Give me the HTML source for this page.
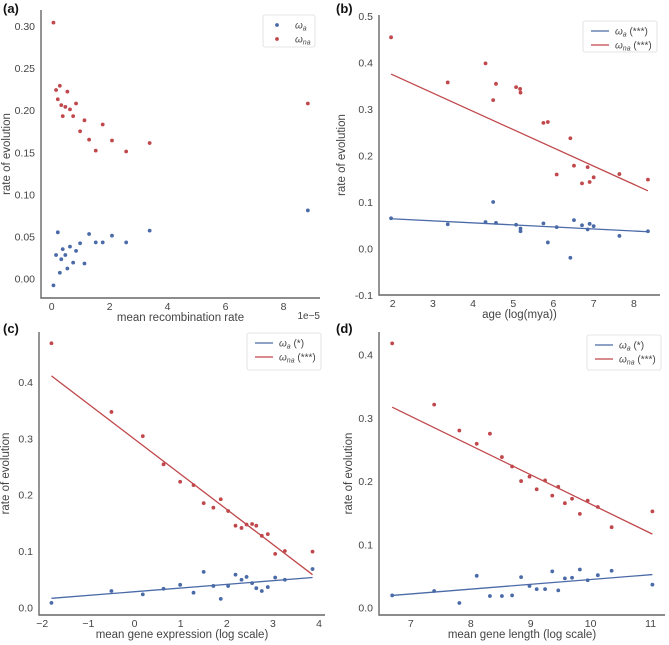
<!DOCTYPE html>
<html><head><meta charset="utf-8">
<style>
html,body{margin:0;padding:0;background:#fff;}
svg{display:block;font-family:"Liberation Sans",sans-serif;}
</style></head>
<body>
<svg id="chart" width="669" height="645" viewBox="0 0 669 645"></svg>
<script>
// Panel (a) data
const aRedX=[0.06,0.15,0.28,0.21,0.33,0.47,0.54,0.63,0.84,0.38,0.74,1.13,0.98,1.29,1.76,1.52,2.08,2.57,3.38,8.84];
const aRedY=[0.304,0.224,0.229,0.213,0.206,0.204,0.222,0.201,0.208,0.193,0.193,0.188,0.175,0.165,0.183,0.152,0.164,0.151,0.161,0.208];
const aBlueX=[0.06,0.15,0.21,0.28,0.33,0.38,0.47,0.54,0.63,0.74,0.84,0.98,1.13,1.29,1.52,1.76,2.08,2.57,3.38,8.84];
const aBlueY=[-0.008,0.028,0.055,0.007,0.023,0.035,0.028,0.012,0.038,0.019,0.033,0.042,0.018,0.053,0.043,0.043,0.051,0.043,0.057,0.081];
const aXTicks=[0,2,4,6,8];
const aYTicks=[0,0.05,0.10,0.15,0.20,0.25,0.30];
// Panel (b) data
const bRedX=[1.96,3.37,4.31,4.50,4.57,5.07,5.17,5.18,5.75,5.86,6.42,6.08,6.51,6.71,6.85,6.90,7.00,7.64,8.35];
const bRedY=[0.454,0.357,0.398,0.319,0.354,0.347,0.343,0.335,0.270,0.272,0.237,0.159,0.178,0.140,0.175,0.143,0.153,0.160,0.148];
const bBlueX=[1.96,3.37,4.31,4.50,4.57,5.07,5.18,5.18,5.75,5.86,6.08,6.42,6.51,6.71,6.85,6.90,7.00,7.64,8.35];
const bBlueY=[0.065,0.052,0.057,0.100,0.055,0.051,0.043,0.037,0.054,0.013,0.046,-0.020,0.061,0.050,0.041,0.053,0.048,0.027,0.037];
const bRedFitX=[1.96,8.35], bRedFitY=[0.375,0.124];
const bBlueFitX=[1.96,8.35], bBlueFitY=[0.064,0.036];
const bXTicks=[2,3,4,5,6,7,8];
const bYTicks=[-0.1,0.0,0.1,0.2,0.3,0.4,0.5];
// Panel (c) data
const cRedX=[-1.80,-0.50,0.18,0.63,0.99,1.28,1.50,1.71,1.87,2.03,2.19,2.32,2.43,2.55,2.64,2.76,2.89,3.05,3.26,3.86];
const cRedY=[0.469,0.347,0.304,0.254,0.223,0.217,0.185,0.177,0.192,0.171,0.145,0.141,0.147,0.148,0.145,0.127,0.130,0.095,0.100,0.099];
const cBlueX=[-1.80,-0.50,0.18,0.63,0.99,1.28,1.50,1.71,1.87,2.03,2.19,2.32,2.43,2.55,2.64,2.76,2.89,3.05,3.26,3.86];
const cBlueY=[0.008,0.029,0.023,0.033,0.040,0.026,0.063,0.038,0.015,0.038,0.058,0.049,0.054,0.043,0.034,0.029,0.036,0.053,0.049,0.068];
const cRedFitX=[-1.80,3.86], cRedFitY=[0.411,0.058];
const cBlueFitX=[-1.80,3.86], cBlueFitY=[0.016,0.053];
const cXTicks=[-2,-1,0,1,2,3,4];
const cYTicks=[0.0,0.1,0.2,0.3,0.4];
// Panel (d) data
const dRedX=[6.69,7.39,7.81,8.10,8.32,8.52,8.69,8.84,8.98,9.10,9.24,9.36,9.46,9.57,9.69,9.82,9.95,10.12,10.35,11.03];
const dRedY=[0.418,0.321,0.280,0.259,0.275,0.238,0.223,0.200,0.207,0.187,0.201,0.177,0.191,0.165,0.172,0.148,0.169,0.159,0.127,0.152];
const dBlueX=[6.69,7.39,7.81,8.10,8.32,8.52,8.69,8.84,8.98,9.10,9.24,9.36,9.46,9.57,9.69,9.82,9.95,10.12,10.35,11.03];
const dBlueY=[0.019,0.026,0.007,0.050,0.018,0.018,0.019,0.048,0.034,0.029,0.029,0.057,0.027,0.046,0.047,0.060,0.043,0.051,0.058,0.036];
const dRedFitX=[6.69,11.03], dRedFitY=[0.317,0.116];
const dBlueFitX=[6.69,11.03], dBlueFitY=[0.019,0.052];
const dXTicks=[7,8,9,10,11];
const dYTicks=[0.0,0.1,0.2,0.3,0.4];

const NS="http://www.w3.org/2000/svg";
const svg=document.getElementById('chart');
const BLUE="#4a6aa8", RED="#c0484c";
function mk(tag,attrs,parent){const e=document.createElementNS(NS,tag);for(const k in attrs)e.setAttribute(k,attrs[k]);(parent||svg).appendChild(e);return e;}

function panel(cfg){
  const g=mk('g',{});
  
  
  const sx=v=>cfg.x0+(v-cfg.xmin)/(cfg.xmax-cfg.xmin)*(cfg.x1-cfg.x0);
  const sy=v=>cfg.y1-(v-cfg.ymin)/(cfg.ymax-cfg.ymin)*(cfg.y1-cfg.y0);
  const sp=mk('path',{d:`M${cfg.x0},${cfg.y0} V${cfg.y1} H${cfg.x1}`,fill:'none',stroke:'#666',"stroke-width":1.4},g);
  
  
  cfg.xt.forEach(t=>{
    const tx=mk('text',{x:sx(t),y:cfg.y1+12,"text-anchor":"middle","font-size":10.5,fill:'#444'},g);
    tx.textContent=(t<0?'\u2212'+Math.abs(t):String(t));
    
    
  });
  cfg.yt.forEach(t=>{
    const tx=mk('text',{x:cfg.x0-6,y:sy(t)+4,"text-anchor":"end","font-size":10.5,fill:'#444'},g);
    tx.textContent=(t<0?'-':'')+Math.abs(t).toFixed(cfg.yd);
    
    
  });
  const xl=mk('text',{x:(cfg.x0+cfg.x1)/2,y:cfg.y1+23,"text-anchor":"middle","font-size":11.5,fill:'#444'},g);
  xl.textContent=cfg.xlabel;
  
  
  const yc=(cfg.y0+cfg.y1)/2;
  const yl=mk('text',{x:cfg.ylx,y:yc,"text-anchor":"middle","font-size":11.5,fill:'#444',transform:`rotate(-90 ${cfg.ylx} ${yc})`},g);
  yl.textContent='rate of evolution';
  
  
  const pl=mk('text',{x:cfg.lx,y:cfg.ly,"font-size":13,"font-weight":"bold",fill:'#111'},g);
  pl.textContent='('+cfg.id+')';
  
  
  if(cfg.rfx){
    const l1=mk('line',{x1:sx(cfg.bfx[0]),y1:sy(cfg.bfy[0]),x2:sx(cfg.bfx[1]),y2:sy(cfg.bfy[1]),stroke:BLUE,"stroke-width":1.3},g);
    
    
    const l2=mk('line',{x1:sx(cfg.rfx[0]),y1:sy(cfg.rfy[0]),x2:sx(cfg.rfx[1]),y2:sy(cfg.rfy[1]),stroke:RED,"stroke-width":1.3},g);
    
    
  }
  cfg.rx.forEach((v,i)=>{
    const c=mk('circle',{cx:sx(v),cy:sy(cfg.ry[i]),r:1.9,fill:RED},g);
    
    
  });
  cfg.bx.forEach((v,i)=>{
    const c=mk('circle',{cx:sx(v),cy:sy(cfg.by[i]),r:1.9,fill:BLUE},g);
    
    
  });
  const L=cfg.leg;
  const lg=mk('g',{},g);
  
  
  mk('rect',{x:L[0],y:L[1],width:L[2],height:L[3],fill:'#fff',stroke:'#ddd',"stroke-width":0.8,rx:2},lg);
  const entries=[[BLUE,'a',cfg.sa],[RED,'na',cfg.sna]];
  entries.forEach((en,i)=>{
    const yy=L[1]+10+i*14;
    const it=mk('g',{},lg);
    
    
    if(cfg.rfx) mk('line',{x1:L[0]+8,y1:yy,x2:L[0]+26,y2:yy,stroke:en[0],"stroke-width":1.3},it);
    else mk('circle',{cx:L[0]+14,cy:yy,r:1.9,fill:en[0]},it);
    const t=mk('text',{x:L[0]+32,y:yy+3.5,"font-size":10,fill:'#444'},it);
    t.innerHTML='<tspan font-style="italic">ω</tspan><tspan font-size="7" font-style="italic" dy="2">'+en[1]+'</tspan><tspan dy="-2">'+en[2]+'</tspan>';
  });
}

panel({id:'a',x0:41,x1:320,y0:10,y1:298,xmin:-0.37,xmax:9.26,ymin:-0.023,ymax:0.319,
  xt:aXTicks,yt:aYTicks,yd:2,xlabel:'mean recombination rate',ylx:10,lx:3,ly:13,
  rx:aRedX,ry:aRedY,bx:aBlueX,by:aBlueY,leg:[263,15,52,32],sa:'',sna:''});
panel({id:'b',x0:379,x1:660,y0:15,y1:295,xmin:1.66,xmax:8.65,ymin:-0.1,ymax:0.502,
  xt:bXTicks,yt:bYTicks,yd:1,xlabel:'age (log(mya))',ylx:345,lx:336,ly:13,
  rx:bRedX,ry:bRedY,bx:bBlueX,by:bBlueY,rfx:bRedFitX,rfy:bRedFitY,bfx:bBlueFitX,bfy:bBlueFitY,
  leg:[583,21,74,31],sa:' (***)',sna:' (***)'});
panel({id:'c',x0:39,x1:325,y0:332,y1:615,xmin:-2.07,xmax:4.13,ymin:-0.0136,ymax:0.489,
  xt:cXTicks,yt:cYTicks,yd:1,xlabel:'mean gene expression (log scale)',ylx:9,lx:3,ly:333,
  rx:cRedX,ry:cRedY,bx:cBlueX,by:cBlueY,rfx:cRedFitX,rfy:cRedFitY,bfx:cBlueFitX,bfy:cBlueFitY,
  leg:[247,333,74,37],sa:' (*)',sna:' (***)'});
panel({id:'d',x0:379,x1:665,y0:332,y1:615,xmin:6.47,xmax:11.24,ymin:-0.012,ymax:0.436,
  xt:dXTicks,yt:dYTicks,yd:1,xlabel:'mean gene length (log scale)',ylx:352,lx:336,ly:333,
  rx:dRedX,ry:dRedY,bx:dBlueX,by:dBlueY,rfx:dRedFitX,rfy:dRedFitY,bfx:dBlueFitX,bfy:dBlueFitY,
  leg:[587,335,74,35],sa:' (*)',sna:' (***)'});
const off=mk('text',{x:320,y:319,"text-anchor":"end","font-size":10,fill:'#444'});
off.textContent='1e\u22125';


</script>
</body></html>
